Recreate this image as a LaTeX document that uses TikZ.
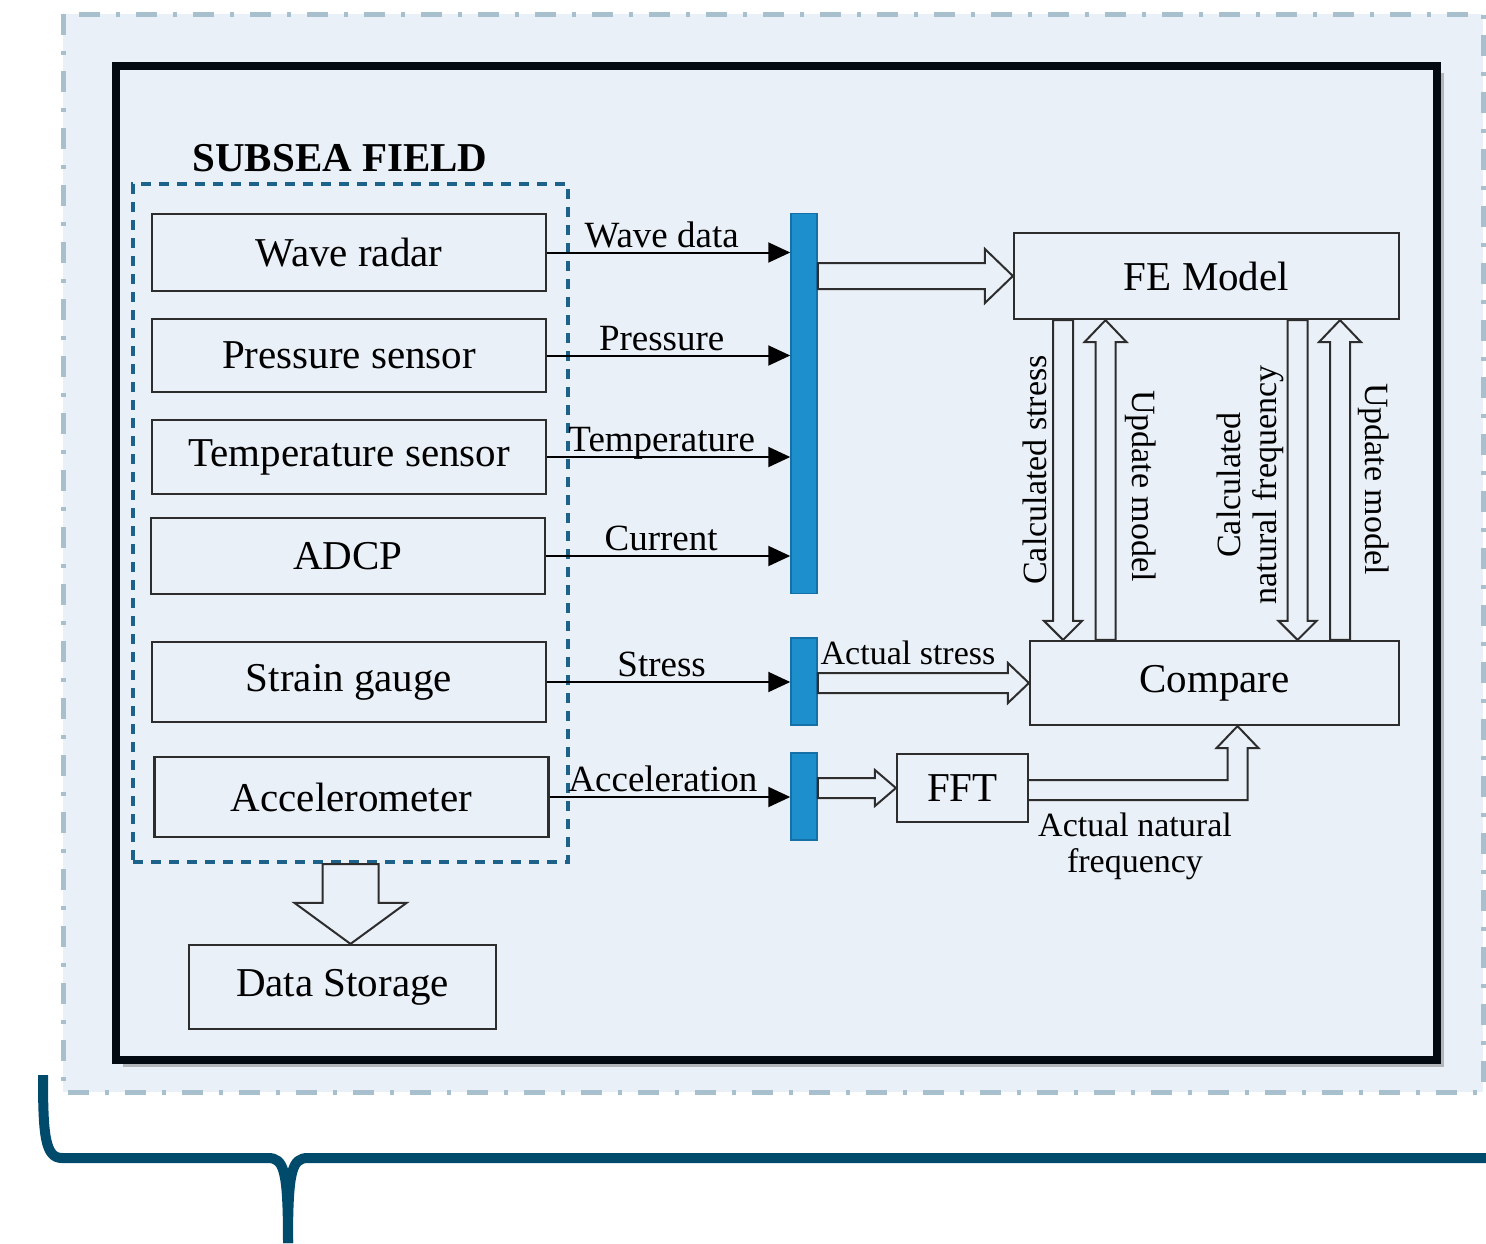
\documentclass[tikz,border=0pt]{standalone}
\usepackage{fontspec}
\setmainfont{Liberation Serif}
\usetikzlibrary{arrows.meta,calc,shadows}

\definecolor{panelfill}{RGB}{233,240,247}
\definecolor{panelline}{RGB}{168,192,206}
\definecolor{frameline}{RGB}{3,10,18}
\definecolor{fieldline}{RGB}{28,98,138}
\definecolor{busfill}{RGB}{30,143,205}
\definecolor{busline}{RGB}{22,112,168}
\definecolor{bracecol}{RGB}{0,74,107}
\definecolor{boxline}{RGB}{45,45,45}

\begin{document}
\begin{tikzpicture}[
        x=1pt, y=-1pt,
        block/.style={draw=boxline, line width=2.2pt, inner sep=0pt},
        bus/.style={fill=busfill, draw=busline, line width=1.5pt, minimum width=26pt, inner sep=0pt},
        hollow/.style={draw=boxline, line width=2pt, fill=panelfill},
        signal/.style={line width=2pt, draw=black, -{Triangle[length=22pt,width=20pt]}},
        bigfont/.style={font=\fontsize{41}{46}\selectfont},
        midfont/.style={font=\fontsize{37}{40}\selectfont},
        smallfont/.style={font=\fontsize{34}{36}\selectfont}
    ]
        % Hollow arrow: from, to, half shaft, half head, head length
        \newcommand{\hollowarrow}[5]{
            \coordinate (hb) at ($(#2)!#5!(#1)$);
            \draw[hollow] ($(#1)!#3!90:(#2)$) -- ($(hb)!#3!90:(#2)$)
                -- ($(hb)!#4!90:(#2)$) -- (#2) -- ($(hb)!#4!-90:(#2)$)
                -- ($(hb)!#3!-90:(#2)$) -- ($(#1)!#3!-90:(#2)$) -- cycle;
        }
        % Page and outer panel
        \useasboundingbox (0,0) rectangle (1486,1243);
        \fill[white] (0,0) rectangle (1486,1243);
        \draw[panelline, fill=panelfill, line width=5pt,
            dash pattern=on 21pt off 16pt on 4pt off 16pt] (63,14) rectangle (1483,1092);
        % Brace
        \draw[bracecol, line width=10pt] (43,1075) .. controls (43,1135) and (45,1158) .. (62,1158)
            -- (268,1158) .. controls (284,1158) and (288,1170) .. (288,1243);
        \draw[bracecol, line width=10pt] (1486,1158) -- (308,1158)
            .. controls (292,1158) and (288,1170) .. (288,1243);
        % Framed area
        \draw[frameline, line width=8pt, fill=panelfill,
            drop shadow={shadow xshift=7pt, shadow yshift=-7pt, opacity=0.35, fill=black!70}]
            (115.5,65.5) rectangle (1437,1060);
        % Subsea field group
        \node[font=\fontsize{41}{46}\selectfont\bfseries] (Title) at (340,158) {SUBSEA FIELD};
        \node[
            draw=fieldline,
            line width=4pt,
            dash pattern=on 10pt off 8pt,
            minimum width=435pt,
            minimum height=678pt,
            inner sep=0pt
        ] (Field) at (350.5,523) {};
        % Sensors
        \foreach \i/\x/\y/\h/\name in {1/349/252.5/77/Wave radar, 2/349/355.5/73/Pressure sensor,
                3/349/457/74/Temperature sensor, 4/348/556/76/ADCP,
                5/349/682/80/Strain gauge, 6/351.5/797/80/Accelerometer} {
            \node[
                block,
                bigfont,
                minimum width=394pt,
                minimum height=\h pt
            ] (Sensor-\i) at (\x,\y) {\name};
        }
        % Right hand blocks
        \node[block, bigfont, minimum width=385pt, minimum height=86pt] (FE) at (1206.5,276) {FE Model};
        \node[block, bigfont, minimum width=369pt, minimum height=84pt] (Compare) at (1214.5,683) {Compare};
        \node[block, bigfont, minimum width=131pt, minimum height=68pt] (FFT) at (962.5,788) {FFT};
        \node[block, bigfont, minimum width=307pt, minimum height=84pt] (Storage) at (342.5,987) {Data Storage};
        % Buses
        \foreach \i/\y/\h in {1/403.5/380, 2/681.5/87, 3/796.5/87} {
            \node[bus, minimum height=\h pt] (Bus-\i) at (804,\y) {};
        }
        % Sensor signals
        \foreach \i/\b/\sig in {1/1/Wave data, 2/1/Pressure, 3/1/Temperature,
                4/1/Current, 5/2/Stress, 6/3/Acceleration} {
            \draw[signal] (Sensor-\i.east) -- (Sensor-\i.east -| Bus-\b.west)
                node[midway, above=2pt, xshift=-7pt, midfont, text depth=.25em, inner sep=0pt] {\sig};
        }
        % Bus outputs
        \hollowarrow{Bus-1.east |- FE.west}{FE.west}{13pt}{27pt}{28pt}
        \hollowarrow{Bus-2.east |- Compare.west}{Compare.west}{10pt}{20pt}{21pt}
        \hollowarrow{Bus-3.east |- FFT.west}{FFT.west}{10pt}{18pt}{21pt}
        \node[smallfont] (Actual) at (908,653) {Actual stress};
        % FE model and compare loop
        \foreach \j/\dx in {1/-143.5, 2/-101, 3/91, 4/133.5} {
            \coordinate (Top-\j) at ([xshift=\dx pt]FE.south);
            \coordinate (Bot-\j) at (Top-\j |- Compare.north);
        }
        \hollowarrow{Top-1}{Bot-1}{10pt}{19pt}{19pt}
        \hollowarrow{Bot-2}{Top-2}{10pt}{21pt}{22pt}
        \hollowarrow{Top-3}{Bot-3}{10pt}{19pt}{19pt}
        \hollowarrow{Bot-4}{Top-4}{10pt}{21pt}{22pt}
        \node[smallfont, rotate=90] at (1035,470) {Calculated stress};
        \node[smallfont, rotate=-90] at (1141,486) {Update model};
        \node[smallfont, rotate=90, align=center] at (1250,485) {Calculated\\natural frequency};
        \node[smallfont, rotate=-90] at (1374,479) {Update model};
        % FFT to compare
        \coordinate (Up) at ([xshift=23pt]Compare.south);
        \draw[hollow] ([yshift=8pt]FFT.east) -| ([xshift=-10pt,yshift=-22pt]Up)
            -- ([xshift=-21pt,yshift=-22pt]Up) -- (Up) -- ([xshift=21pt,yshift=-22pt]Up)
            -- ([xshift=10pt,yshift=-22pt]Up) |- ([yshift=-12pt]FFT.east);
        \node[smallfont, align=center] at (1135,846) {Actual natural\\frequency};
        % Storage
        \hollowarrow{Field.south}{Field.south |- Storage.north}{28pt}{56pt}{41pt}
    \end{tikzpicture}
\end{document}
